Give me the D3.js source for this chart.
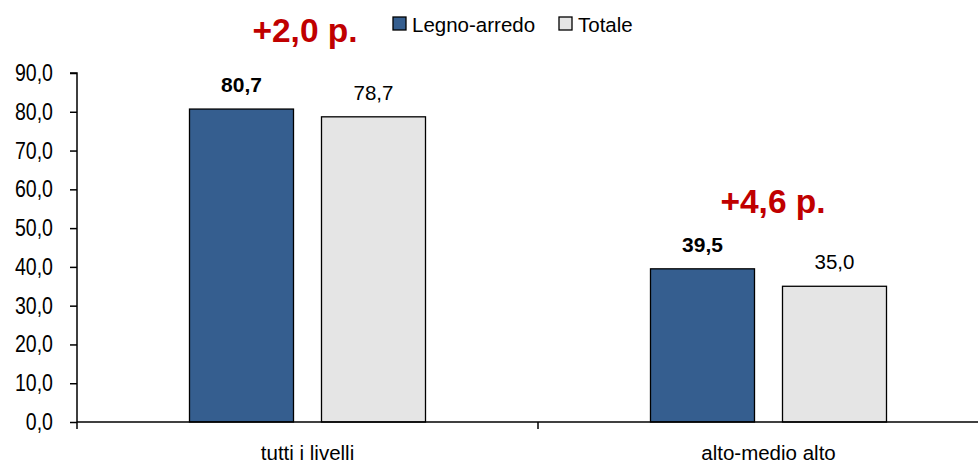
<!DOCTYPE html>
<html><head><meta charset="utf-8">
<script src="https://cdn.jsdelivr.net/npm/d3@7"></script>
<style>body{margin:0;background:#fff}svg{display:block;font-family:"Liberation Sans",Arial,sans-serif}</style>
</head><body>
<svg id="c" width="978" height="465"></svg>
<script>
const categories = ["tutti i livelli", "alto-medio alto"];
const seriesNames = ["Legno-arredo", "Totale"];
const legnoValues = [80.7, 39.5];
const totaleValues = [78.7, 35.0];
const diffLabels = ["+2,0 p.", "+4,6 p."];
const yTicks = [0, 10, 20, 30, 40, 50, 60, 70, 80, 90];
const colors = ["#355e8f", "#e5e5e5"];
const FF = "Liberation Sans, Arial, sans-serif";

const svg = d3.select("#c");
const x = d3.scaleBand().domain(categories).range([77, 999]);
const xs = d3.scaleBand().domain(seriesNames).range([0, 236]).paddingInner(28/132);
const y = d3.scaleLinear().domain([0, 90]).range([422, 73]);
const fmt = v => d3.format(".1f")(v).replace(".", ",");

// y axis
const ya = svg.append("g").attr("transform", "translate(77,0)")
  .call(d3.axisLeft(y).tickValues(yTicks).tickSize(7).tickPadding(24).tickFormat(fmt));
ya.select(".domain").attr("stroke", "#000").attr("stroke-width", 1.5).attr("d", `M-7,${y(90)}H0V${y(0)}`);
ya.selectAll(".tick line").attr("stroke", "#000").attr("stroke-width", 1.5);
ya.selectAll(".tick text").attr("font-size", 23.3).attr("fill", "#000").attr("font-family", FF)
  .attr("transform", "translate(-24,0) scale(0.84,1)").attr("x", 0);

// bars
const data = categories.map((c, i) => ({c, vals: [legnoValues[i], totaleValues[i]]}));
const offset = (x.bandwidth() - 236) / 2;
data.forEach((d, i) => {
  d.vals.forEach((v, j) => {
    const bx = x(d.c) + offset + xs(seriesNames[j]);
    svg.append("rect").attr("x", bx).attr("y", y(v)).attr("width", xs.bandwidth())
      .attr("height", y(0) - y(v)).attr("fill", colors[j]).attr("stroke", "#000").attr("stroke-width", 1.3);
    svg.append("text").attr("x", bx + xs.bandwidth()/2).attr("y", y(v) - 17)
      .attr("text-anchor", "middle").attr("font-size", j === 0 ? 21 : 20.5).attr("font-weight", j === 0 ? "bold" : "normal")
      .attr("fill", "#000").text(fmt(v));
  });
});

// x axis
const xa = svg.append("g").attr("transform", `translate(0,${y(0)})`)
  .call(d3.axisBottom(x).tickSize(0).tickPadding(23));
xa.select(".domain").attr("stroke", "#000").attr("stroke-width", 1.5).attr("d", "M77,0H999");
xa.selectAll(".tick text").attr("font-size", 20.5).attr("fill", "#000").attr("font-family", FF);
[77, 538].forEach(t => svg.append("line").attr("x1", t).attr("x2", t).attr("y1", y(0)).attr("y2", y(0) + 7)
  .attr("stroke", "#000").attr("stroke-width", 1.5));

// diff labels
const diffPos = [[305, 42], [773, 213]];
diffLabels.forEach((t, i) => {
  svg.append("text").attr("x", diffPos[i][0]).attr("y", diffPos[i][1]).attr("text-anchor", "middle")
    .attr("font-size", 33.5).attr("font-weight", "bold").attr("fill", "#c00000").text(t);
});

// legend
const legX = [393, 559];
seriesNames.forEach((s, i) => {
  svg.append("rect").attr("x", legX[i]).attr("y", 17).attr("width", 13).attr("height", 13)
    .attr("fill", colors[i]).attr("stroke", "#000").attr("stroke-width", 1.3);
  svg.append("text").attr("x", legX[i] + 19).attr("y", 31.5).attr("font-size", 20.5).attr("fill", "#000").text(s);
});
</script>
</body></html>
